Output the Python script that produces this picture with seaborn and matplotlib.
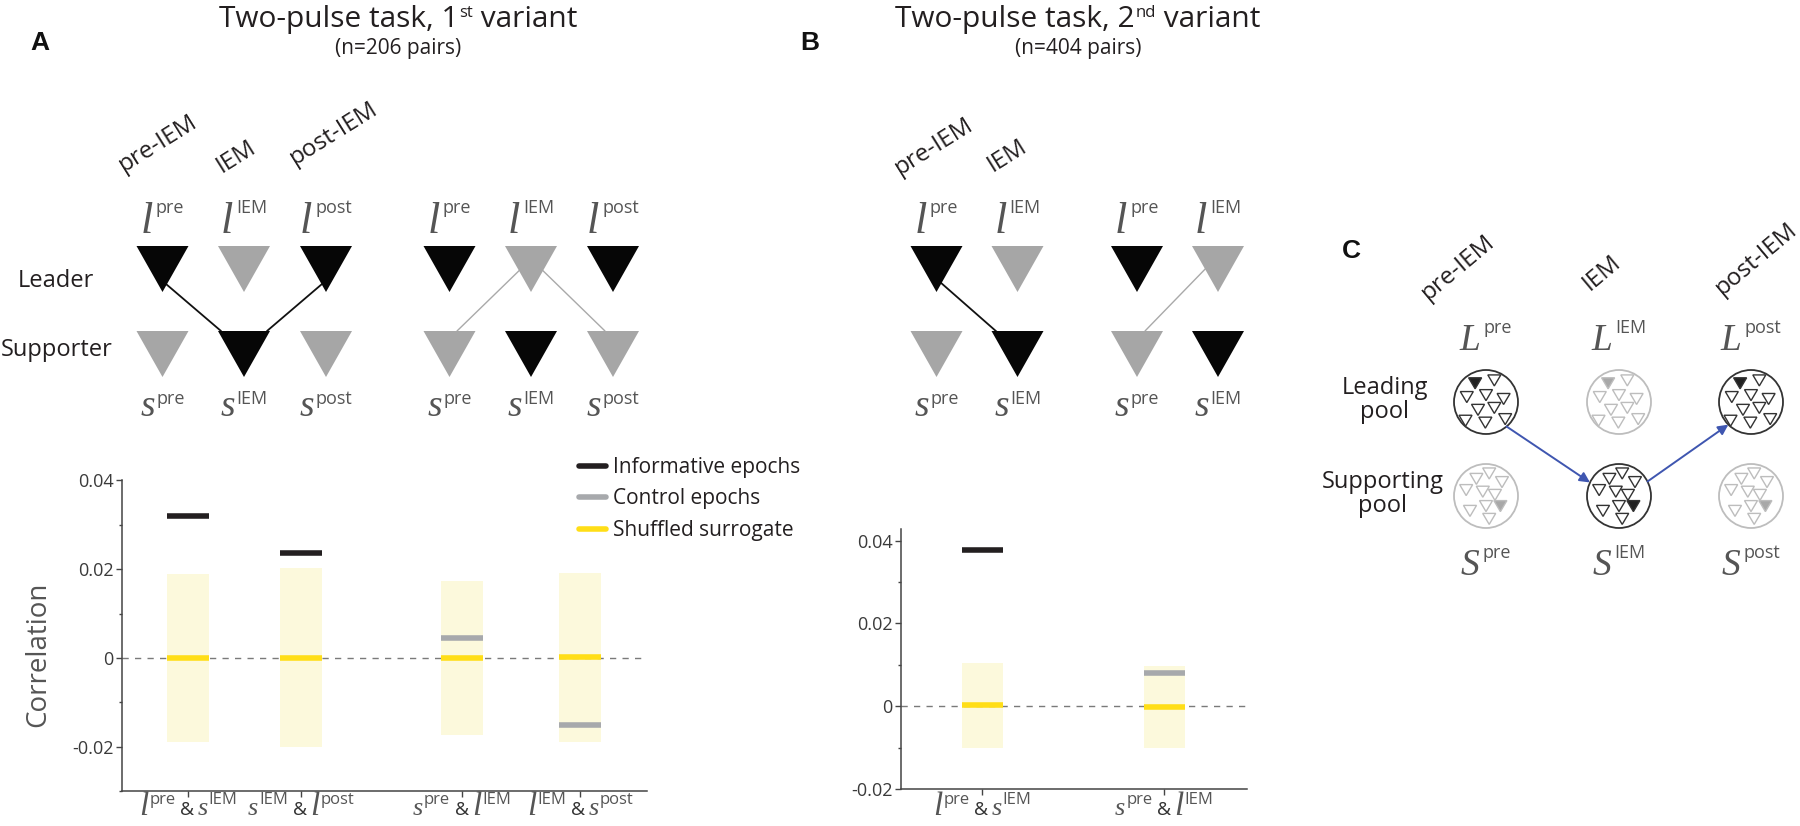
import numpy as np
import pandas as pd
import matplotlib
matplotlib.use("Agg")
import matplotlib.pyplot as plt
import seaborn as sns
from matplotlib.patches import Polygon, Circle, FancyArrowPatch
from matplotlib.lines import Line2D
from matplotlib.ticker import MultipleLocator

# Panel A: two-pulse task, 1st variant (n=206 pairs)
a_pairs = [(("l", "pre"), ("s", "IEM")), (("s", "IEM"), ("l", "post")),
           (("s", "pre"), ("l", "IEM")), (("l", "IEM"), ("s", "post"))]
a_informative = [0.0319, 0.0236, np.nan, np.nan]
a_control = [np.nan, np.nan, 0.0044, -0.0151]
a_shuffled_mean = [0.0, 0.0, 0.0, 0.0001]
a_shuffled_hi = [0.0190, 0.0203, 0.0174, 0.0192]
a_shuffled_lo = [-0.0190, -0.0201, -0.0174, -0.0189]

# Panel B: two-pulse task, 2nd variant (n=404 pairs)
b_pairs = [(("l", "pre"), ("s", "IEM")), (("s", "pre"), ("l", "IEM"))]
b_informative = [0.0378, np.nan]
b_control = [np.nan, 0.0081]
b_shuffled_mean = [0.0002, -0.0002]
b_shuffled_hi = [0.0105, 0.0098]
b_shuffled_lo = [-0.0102, -0.0100]

legend_labels = ["Informative epochs", "Control epochs", "Shuffled surrogate"]

BLACK = "#231f20"
GRAY = "#a7a9ac"
YELLOW = "#ffde17"
SHADE = "#fcf9dc"
FONT = "Open Sans"

sns.set_style("ticks")
plt.rcParams["font.family"] = [FONT, "DejaVu Sans"]

fig = plt.figure(figsize=(18, 8.26), dpi=100)


def corr_panel(ax, xpos, hi, lo, mean, info, ctrl, width, ylim, xlim):
    df = pd.DataFrame({"x": xpos, "hi": hi, "lo": lo})
    for col in ["hi", "lo"]:
        sns.barplot(data=df, x="x", y=col, native_scale=True, width=width,
                    color=SHADE, saturation=1, errorbar=None, linewidth=0,
                    ax=ax)
    xs = np.asarray(xpos, dtype=float)
    h = width / 2
    ax.axhline(0, color="#7a7a7a", lw=1.0, ls=(0, (4.5, 4.5)), zorder=2)
    ax.hlines(mean, xs - h, xs + h, color=YELLOW, lw=4, zorder=3)
    ax.hlines(ctrl, xs - h, xs + h, color=GRAY, lw=4, zorder=3)
    ax.hlines(info, xs - h, xs + h, color=BLACK, lw=4, zorder=3)
    ax.set_ylim(*ylim)
    ax.set_xlim(*xlim)
    ax.set_xticks(xpos)
    ax.set_xticklabels([""] * len(xpos))
    ax.set_yticks([0.04, 0.02, 0, -0.02])
    ax.set_yticklabels(["0.04", "0.02", "0", "-0.02"])
    ax.yaxis.set_minor_locator(MultipleLocator(0.01))
    ax.set_xlabel("")
    ax.set_ylabel("")
    ax.set_facecolor("none")
    sns.despine(ax=ax)
    for s in ["left", "bottom"]:
        ax.spines[s].set_color("#444444")
        ax.spines[s].set_linewidth(1.1)
    ax.tick_params(which="major", direction="out", length=4, width=1,
                   color="#444444", labelsize=13, labelcolor="#3a3a3a", pad=2)
    ax.tick_params(which="minor", direction="out", length=2.5, width=1,
                   color="#444444")
    ax.tick_params(axis="x", which="minor", length=0)


a_xpos = [0, 1, 2.43, 3.48]
b_xpos = [0, 1]

ax_a = fig.add_axes([122 / 1800, 1 - 791 / 826, 525 / 1800, 311 / 826])
corr_panel(ax_a, a_xpos, a_shuffled_hi, a_shuffled_lo, a_shuffled_mean,
           a_informative, a_control, 0.37, (-0.03, 0.0401), (-0.588, 4.073))
ax_a.set_ylabel("Correlation", fontsize=20, color="#555555")
ax_a.yaxis.set_label_coords(-0.133, 0.44)

ax_b = fig.add_axes([901 / 1800, 1 - 789 / 826, 346 / 1800, 260 / 826])
corr_panel(ax_b, b_xpos, b_shuffled_hi, b_shuffled_lo, b_shuffled_mean,
           b_informative, b_control, 0.229, (-0.02, 0.0428), (-0.447, 1.454))

handles = [Line2D([], [], color=c, lw=4) for c in [BLACK, GRAY, YELLOW]]
ax_a.legend(handles, legend_labels, loc="upper left", frameon=False,
            bbox_to_anchor=(579 / 1800, 1 - 457 / 826),
            bbox_transform=fig.transFigure, fontsize=15, handlelength=1.3,
            handletextpad=0.35, labelspacing=0.5, borderpad=0,
            borderaxespad=0, labelcolor="#231f20")

# overlay in pixel coordinates (y grows downward) for the schematics
ov = fig.add_axes([0, 0, 1, 1])
ov.set_xlim(0, 1800)
ov.set_ylim(826, 0)
ov.axis("off")
renderer = fig.canvas.get_renderer()

STY = {
    "var": dict(family="Liberation Serif", style="italic", color="#555555"),
    "sup": dict(family=FONT, color="#555555"),
    "txt": dict(family=FONT, color="#333333"),
    "ttl": dict(family=FONT, color="#231f20"),
}


def rich(x, y, parts, ha="center"):
    objs = []
    for s, kind, size, dy, dx in parts:
        t = ov.text(0, 0, s, fontsize=size, va="baseline", ha="left",
                    **STY[kind])
        w = t.get_window_extent(renderer).width
        objs.append((t, dy, dx, w))
    total = sum(o[2] + o[3] for o in objs)
    x0 = x - total / 2 if ha == "center" else x
    for t, dy, dx, w in objs:
        x0 += dx
        t.set_position((x0, y - dy))
        x0 += w


def var_label(x, y, sym, sup, big=32, sub=13, rise=20, gap=3):
    rich(x, y, [(sym, "var", big, 0, 0), (sup, "sup", sub, rise, gap)])


def tick_label(ax, xpos, pair):
    (v1, s1), (v2, s2) = pair
    xd = ax.transData.transform((xpos, 0))[0]
    size = {"l": 24, "s": 19}
    rich(xd, 815, [(v1, "var", size[v1], 0, 0), (s1, "sup", 12, 11, 1),
                   ("&", "txt", 14, 0, 5),
                   (v2, "var", size[v2], 0, 3), (s2, "sup", 12, 11, 1)])


for xp, pair in zip(a_xpos, a_pairs):
    tick_label(ax_a, xp, pair)
for xp, pair in zip(b_xpos, b_pairs):
    tick_label(ax_b, xp, pair)

# titles and panel letters
for cx, num, nth, sub in [(398, "1", "st", "(n=206 pairs)"),
                          (1078, "2", "nd", "(n=404 pairs)")]:
    rich(cx, 27, [("Two-pulse task, " + num, "ttl", 21.5, 0, 0),
                  (nth, "ttl", 12, 10, 1), (" variant", "ttl", 21.5, 0, 0)])
    ov.text(cx, 54, sub, fontsize=15, ha="center", va="baseline",
            color="#231f20")
for lx, ly, letter in [(40, 50, "A"), (810, 50, "B"), (1351, 258, "C")]:
    ov.text(lx, ly, letter, fontsize=19, fontweight="bold", ha="center",
            va="baseline", family="Liberation Sans", color="#111111")

# neuron-pair schematics of panels A and B
TK, TG = "#060606", "#a6a6a6"


def tri(cx, top, color, hw=26, hgt=46):
    ov.add_patch(Polygon([(cx - hw, top), (cx + hw, top), (cx, top + hgt)],
                         closed=True, fc=color, ec="none", zorder=3))


sch_cols = [
    ([162.5, 244, 326, 449.5, 531, 613],
     [TK, TG, TK, TK, TG, TK], [TG, TK, TG, TG, TK, TG],
     ["pre", "IEM", "post", "pre", "IEM", "post"]),
    ([936.5, 1017.5, 1137, 1218],
     [TK, TG, TK, TG], [TG, TK, TG, TK],
     ["pre", "IEM", "pre", "IEM"]),
]
for cols, lead, supp, sups in sch_cols:
    for cx, cl, cs, sp in zip(cols, lead, supp, sups):
        tri(cx, 246, cl)
        tri(cx, 331, cs)
        var_label(cx, 233, "l", sp)
        var_label(cx, 416, "s", sp, big=27, rise=12, gap=1)

links = [((166, 284), (221, 331), TK), ((322, 284), (267, 331), TK),
         ((528, 262), (457, 331), TG), ((534, 262), (605, 331), TG),
         ((940, 282), (997, 332), TK), ((1212, 262), (1145, 331), TG)]
for (x1, y1), (x2, y2), c in links:
    ov.plot([x1, x2], [y1, y2], color="#111111" if c == TK else "#a9a9a9",
            lw=1.3 if c == TK else 1.0, zorder=2)

ov.text(18, 287, "Leader", fontsize=17, ha="left", va="baseline", color="#231f20")
ov.text(1, 356, "Supporter", fontsize=17, ha="left", va="baseline", color="#231f20")

headers = [(124, 172, "pre-IEM"), (222, 173, "IEM"), (295, 165, "post-IEM"),
           (900, 175, "pre-IEM"), (993, 172, "IEM")]
for hx, hy, s in headers:
    ov.text(hx, hy, s, fontsize=17.5, rotation=32, rotation_mode="anchor",
            ha="left", va="baseline", color="#231f20")

# panel C: pools of neurons
c_cols = [1486, 1619, 1751]
c_sups = ["pre", "IEM", "post"]
lead_y, supp_y, rad = 402, 496, 32
lead_active = [True, False, True]
supp_active = [False, True, False]
lead_pts = [(-0.34, -0.6), (0.26, -0.69), (-0.6, -0.17), (0.0, -0.23),
            (0.55, -0.11), (-0.25, 0.23), (0.26, 0.17), (-0.64, 0.57),
            (-0.02, 0.63), (0.6, 0.52)]
supp_pts = [(0.45, 0.3), (0.1, -0.72), (-0.3, -0.55), (0.5, -0.45),
            (-0.62, -0.2), (-0.1, -0.15), (0.28, -0.05), (-0.5, 0.45),
            (0.0, 0.3), (0.1, 0.7)]


def pool(cx, cy, pts, active):
    edge = "#333333" if active else "#bdbdbd"
    fill = "#222222" if active else "#a8a8a8"
    ov.add_patch(Circle((cx, cy), rad, fc="white", ec=edge, lw=1.3, zorder=3))
    for i, (dx, dy) in enumerate(pts):
        px, py = cx + dx * rad, cy + dy * rad - 5
        ov.add_patch(Polygon([(px - 6.5, py), (px + 6.5, py), (px, py + 11)],
                             closed=True, fc=fill if i == 0 else "white",
                             ec=edge, lw=1.0, zorder=4))


for cx, sp, la, sa in zip(c_cols, c_sups, lead_active, supp_active):
    pool(cx, lead_y, lead_pts, la)
    pool(cx, supp_y, supp_pts, sa)
    rich(cx, 350, [("L", "var", 27, 0, 0), (sp, "sup", 13, 17, 3)])
    rich(cx, 575, [("S", "var", 27, 0, 0), (sp, "sup", 13, 17, 3)])

ov.text(1385, 400, "Leading\npool", fontsize=17, ha="center", va="center",
        color="#231f20", linespacing=0.95)
ov.text(1383, 494, "Supporting\npool", fontsize=17, ha="center", va="center",
        color="#231f20", linespacing=0.95)

for hx, hy, s in [(1428, 300, "pre-IEM"), (1590, 291, "IEM"), (1722, 295, "post-IEM")]:
    ov.text(hx, hy, s, fontsize=17.5, rotation=40, rotation_mode="anchor",
            ha="left", va="baseline", color="#231f20")

ang = np.deg2rad
arrows = [((c_cols[0], lead_y, -50), (c_cols[1], supp_y, 155)),
          ((c_cols[1], supp_y, 27), (c_cols[2], lead_y, -135))]
for (x1, y1, a1), (x2, y2, a2) in arrows:
    p1 = (x1 + rad * np.cos(ang(a1)), y1 - rad * np.sin(ang(a1)))
    p2 = (x2 + rad * np.cos(ang(a2)), y2 - rad * np.sin(ang(a2)))
    ov.add_patch(FancyArrowPatch(p1, p2, arrowstyle="-|>,head_length=6,head_width=3",
                                 color="#3f56b0", lw=1.4, zorder=5,
                                 shrinkA=0, shrinkB=0))

fig.savefig("out.png", dpi=100)
